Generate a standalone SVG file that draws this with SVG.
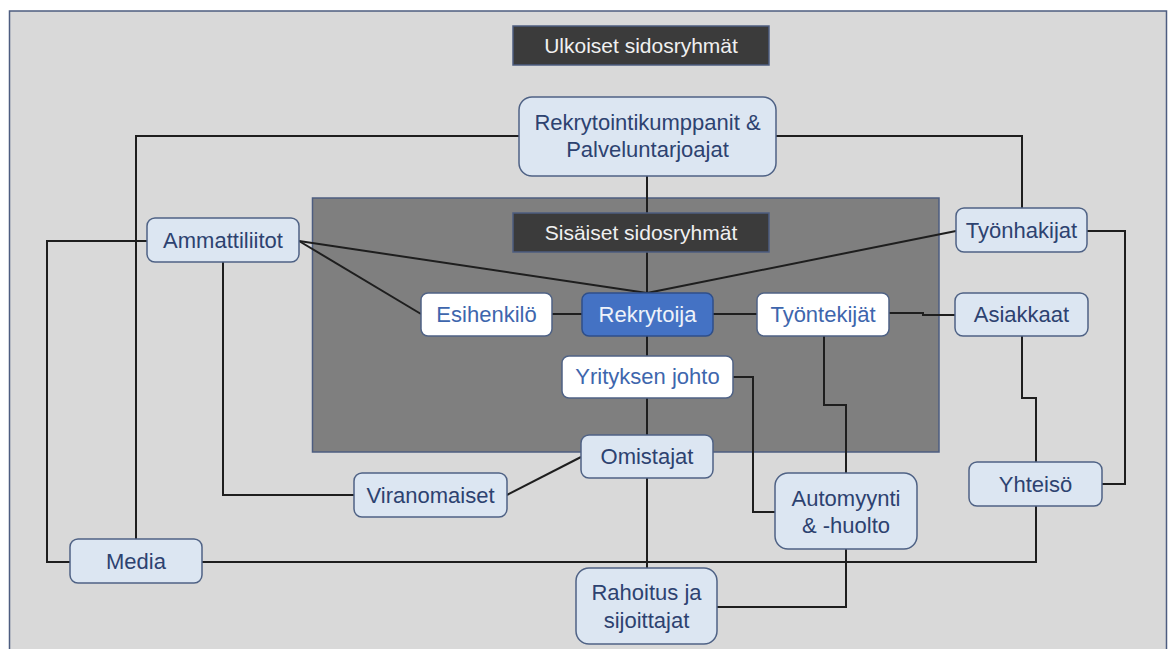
<svg xmlns="http://www.w3.org/2000/svg" width="1168" height="649" viewBox="0 0 1168 649">
  <style>
    text { font-family: "Liberation Sans", Arial, sans-serif; font-size: 22px; text-anchor: middle; }
    .title text { font-size: 21px; }
    .panel-outer { fill: #d9d9d9; stroke: #4d5d80; stroke-width: 1.5; }
    .panel-inner { fill: #7f7f7f; stroke: #4d5d80; stroke-width: 1.5; }
    .title rect { fill: #3b3b3b; stroke: #4d5d80; stroke-width: 1.5; }
    .title text { fill: #f0f0f0; }
    .ext rect { fill: #dce6f2; stroke: #4f6285; stroke-width: 1.5; }
    .ext text { fill: #2d4270; }
    .int rect { fill: #ffffff; stroke: #4f6285; stroke-width: 1.5; }
    .int text { fill: #3e66ad; }
    .core rect { fill: #4472c4; stroke: #2f4f8a; stroke-width: 1.5; }
    .core text { fill: #eef2fa; }
    #connectors path { fill: none; stroke: #1e1e1e; stroke-width: 2; }
  </style>

  <!-- background panels -->
  <rect class="panel-outer" x="9.5" y="11" width="1157" height="660"/>
  <rect class="panel-inner" x="312.5" y="198" width="626.5" height="254"/>

  <!-- connectors -->
  <g id="connectors">
    <path d="M519,136 H136 V539"/>
    <path d="M776,136 H1022 V208"/>
    <path d="M647,176 V213"/>
    <path d="M647,252 V293"/>
    <path d="M299,241 L647,293"/>
    <path d="M299,241 L421,314"/>
    <path d="M956,231 L647,293"/>
    <path d="M552,314 H582"/>
    <path d="M713,314 H757"/>
    <path d="M889,313 H923 V315 H955"/>
    <path d="M647,336 V356"/>
    <path d="M647,398 V435"/>
    <path d="M733,377 H753 V512 H775"/>
    <path d="M824,336 V405 H846 V473"/>
    <path d="M1022,336 V398 H1036 V462"/>
    <path d="M1087,231 H1125 V484 H1102"/>
    <path d="M147,241 H47 V562 H70"/>
    <path d="M223,262 V495 H354"/>
    <path d="M507,495 L581,457"/>
    <path d="M647,478 V568"/>
    <path d="M202,562 H1036 V506"/>
    <path d="M846,549 V607 H717"/>
  </g>

  <!-- section titles -->
  <g id="title-external" class="title">
    <rect x="513" y="26" width="256" height="39"/>
    <text x="641" y="53">Ulkoiset sidosryhmät</text>
  </g>
  <g id="title-internal" class="title">
    <rect x="513" y="213" width="256" height="39"/>
    <text x="641" y="240">Sisäiset sidosryhmät</text>
  </g>

  <!-- external stakeholders -->
  <g id="rekrytointikumppanit" class="ext">
    <rect x="519" y="97" width="257" height="79" rx="13"/>
    <text x="647.5" y="130">Rekrytointikumppanit &amp;</text>
    <text x="647.5" y="157">Palveluntarjoajat</text>
  </g>
  <g id="ammattiliitot" class="ext">
    <rect x="147" y="218" width="152" height="44" rx="8"/>
    <text x="223" y="248">Ammattiliitot</text>
  </g>
  <g id="tyonhakijat" class="ext">
    <rect x="956" y="208" width="131" height="44" rx="8"/>
    <text x="1021.5" y="238">Työnhakijat</text>
  </g>
  <g id="asiakkaat" class="ext">
    <rect x="955" y="293" width="133" height="43" rx="8"/>
    <text x="1021.5" y="322">Asiakkaat</text>
  </g>
  <g id="omistajat" class="ext">
    <rect x="581" y="435" width="132" height="43" rx="8"/>
    <text x="647" y="464">Omistajat</text>
  </g>
  <g id="viranomaiset" class="ext">
    <rect x="354" y="473" width="153" height="44" rx="8"/>
    <text x="430.5" y="502.5">Viranomaiset</text>
  </g>
  <g id="yhteiso" class="ext">
    <rect x="969" y="462" width="133" height="44" rx="8"/>
    <text x="1035.5" y="491.5">Yhteisö</text>
  </g>
  <g id="automyynti" class="ext">
    <rect x="775" y="473" width="142" height="76" rx="13"/>
    <text x="846" y="506">Automyynti</text>
    <text x="846" y="533">&amp; -huolto</text>
  </g>
  <g id="media" class="ext">
    <rect x="70" y="539" width="132" height="44" rx="8"/>
    <text x="136" y="568.5">Media</text>
  </g>
  <g id="rahoitus" class="ext">
    <rect x="576" y="568" width="141" height="76" rx="13"/>
    <text x="646.5" y="600">Rahoitus ja</text>
    <text x="646.5" y="628">sijoittajat</text>
  </g>

  <!-- internal stakeholders -->
  <g id="esihenkilo" class="int">
    <rect x="421" y="293" width="131" height="43" rx="7"/>
    <text x="486.5" y="322">Esihenkilö</text>
  </g>
  <g id="rekrytoija" class="core">
    <rect x="582" y="293" width="131" height="43" rx="7"/>
    <text x="647.5" y="322">Rekrytoija</text>
  </g>
  <g id="tyontekijat" class="int">
    <rect x="757" y="293" width="132" height="43" rx="7"/>
    <text x="823" y="322">Työntekijät</text>
  </g>
  <g id="yrityksen-johto" class="int">
    <rect x="562" y="356" width="171" height="42" rx="7"/>
    <text x="647.5" y="384">Yrityksen johto</text>
  </g>
</svg>
